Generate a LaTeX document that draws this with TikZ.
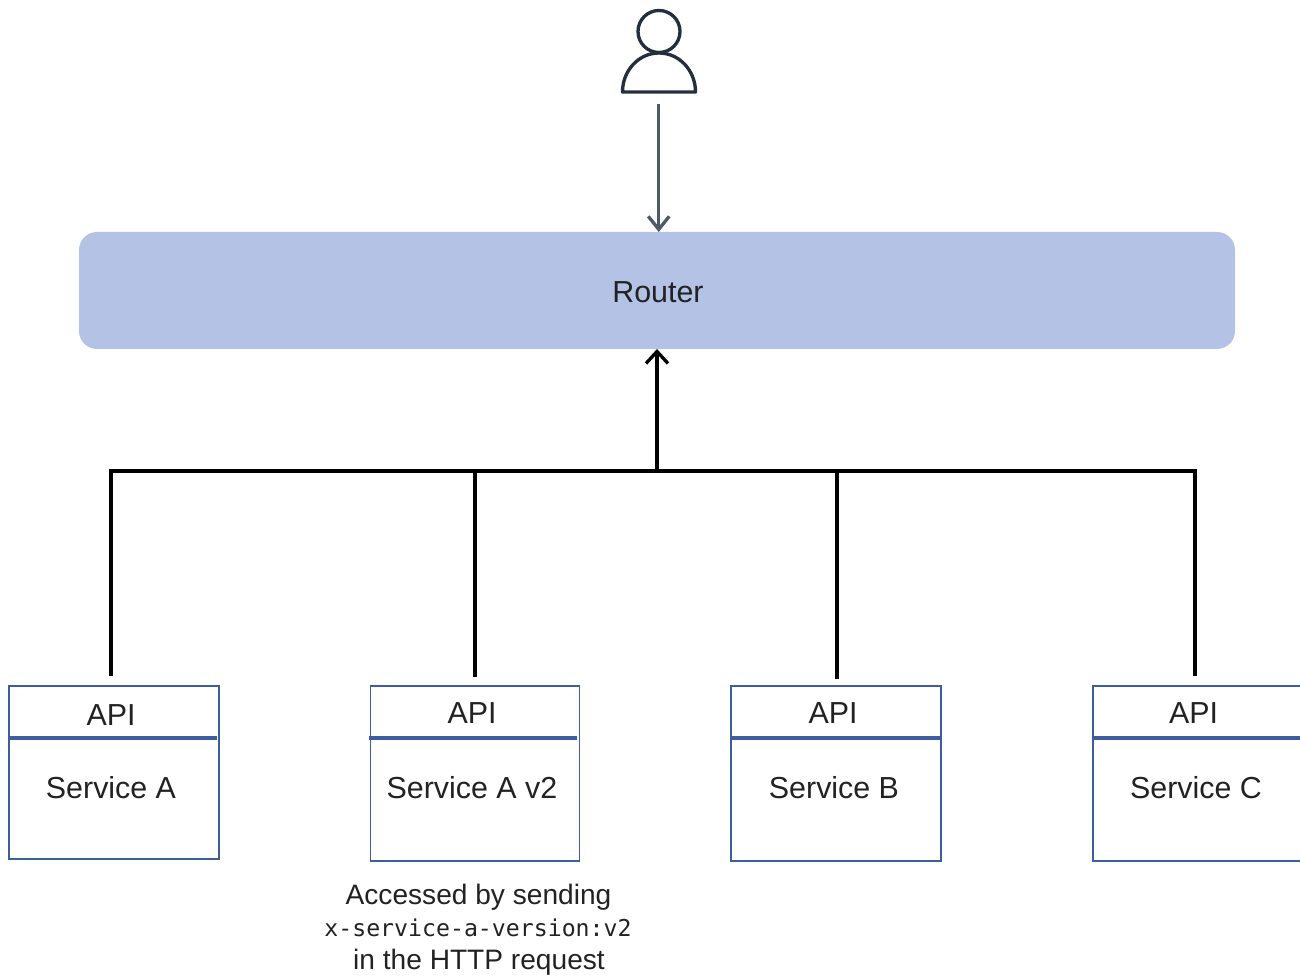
\documentclass[tikz,border=0pt]{standalone}
\usepackage{fontspec}
\setmainfont{Liberation Sans}
\newfontfamily\codefont{DejaVu Sans Mono}
\usetikzlibrary{arrows.meta}

\definecolor{routerfill}{HTML}{B4C3E5}
\definecolor{boxline}{HTML}{3C5EA0}
\definecolor{userline}{HTML}{232F3E}
\definecolor{userarrow}{HTML}{4D5A68}
\definecolor{labeltext}{HTML}{222222}

\begin{document}
\begin{tikzpicture}[every node/.style={inner sep=0pt, outer sep=0pt, text=labeltext, font=\fontsize{17.3}{20}\selectfont},
        routerbox/.style={fill=routerfill, minimum width=23.12cm, minimum height=2.34cm, rounded corners=0.36cm},
        servicebox/.style={draw=boxline, line width=1.1pt, minimum width=4.18cm, minimum height=3.5cm},
        apirule/.style={draw=boxline, line width=1.9pt},
        busline/.style={black, line width=1.9pt},
        userpart/.style={draw=userline, line width=1.9pt},
        notetext/.style={font=\fontsize{16}{20}\selectfont},
        notecode/.style={font=\codefont\fontsize{13.2}{16}\selectfont}]
        \useasboundingbox (0,0) rectangle (26,19.54);

        \node[routerbox] (router) at (13.14,13.73) {};
        \node (routerlabel) at (13.16,13.69) {Router};

        \node[minimum width=1.48cm, minimum height=1.64cm] (user) at (13.175,18.5) {};
        \node[circle, userpart, minimum size=0.84cm] (userhead) at (13.18,18.91) {};
        \draw[userpart, line join=round] (12.45,17.7) arc[start angle=180, end angle=0, x radius=0.73cm, y radius=0.78cm] -- cycle;

        \node[servicebox, minimum width=4.2cm, minimum height=3.46cm] (boxa) at (2.28,4.09) {};
        \node[servicebox] (boxb) at (9.5,4.07) {};
        \node[servicebox, minimum width=4.2cm] (boxc) at (16.72,4.07) {};
        \node[servicebox] (boxd) at (23.95,4.07) {};

        \draw[apirule] (0.18,4.78) -- (4.34,4.78);
        \draw[apirule] (7.38,4.78) -- (11.54,4.78);
        \draw[apirule] (14.62,4.78) -- (18.82,4.78);
        \draw[apirule] (21.86,4.78) -- (26.1,4.78);

        \node (apia) at (2.22,5.24) {API};
        \node (apib) at (9.44,5.28) {API};
        \node (apic) at (16.66,5.28) {API};
        \node (apid) at (23.87,5.28) {API};
        \node (servicea) at (2.22,3.78) {Service A};
        \node (serviceb) at (9.44,3.78) {Service A v2};
        \node (servicec) at (16.68,3.78) {Service B};
        \node (serviced) at (23.92,3.78) {Service C};

        \node[notetext] (notetop) at (9.57,1.6) {Accessed by sending};
        \node[notecode] (notecode) at (9.56,0.99) {x-service-a-version:v2};
        \node[notetext] (notebottom) at (9.58,0.3) {in the HTTP request};

        \coordinate (busa) at (2.22,10.12);
        \coordinate (busb) at (9.5,10.12);
        \coordinate (busc) at (16.74,10.12);
        \coordinate (busd) at (23.9,10.12);
        \coordinate (busr) at (13.14,10.12);

        \draw[userarrow, line width=1.9pt, shorten <=0.22cm, -{Straight Barb[length=0.26cm, width=0.42cm]}] (user.south) -- (user.south |- router.north);
        \draw[busline, -{Straight Barb[length=0.24cm, width=0.44cm]}] (busr) -- (router.south);
        \draw[busline, line cap=rect] (busa) -- (busd);
        \draw[busline, shorten <=0.2cm] (boxa.north -| busa) -- (busa);
        \draw[busline, shorten <=0.18cm] (boxb.north -| busb) -- (busb);
        \draw[busline, shorten <=0.14cm] (boxc.north -| busc) -- (busc);
        \draw[busline, shorten <=0.2cm] (boxd.north -| busd) -- (busd);

\end{tikzpicture}
\end{document}
